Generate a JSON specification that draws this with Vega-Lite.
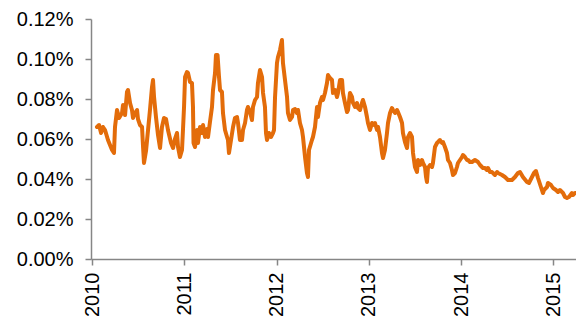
{
  "$schema": "https://vega.github.io/schema/vega-lite/v6.json",
  "autosize": {"type": "none"},
  "padding": {"left": 91, "top": 19, "right": 0, "bottom": 61},
  "width": 485,
  "height": 240,
  "background": "white",
  "config": {"view": {"stroke": null}},
  "data": {"values": [
    {"t": 2010.054, "v": 0.066}, {"t": 2010.076, "v": 0.067}, {"t": 2010.098, "v": 0.063}, {"t": 2010.119, "v": 0.066},
    {"t": 2010.141, "v": 0.0645}, {"t": 2010.173, "v": 0.0595}, {"t": 2010.195, "v": 0.057}, {"t": 2010.217, "v": 0.0545},
    {"t": 2010.238, "v": 0.053}, {"t": 2010.249, "v": 0.066}, {"t": 2010.271, "v": 0.0745}, {"t": 2010.293, "v": 0.0705},
    {"t": 2010.325, "v": 0.073}, {"t": 2010.336, "v": 0.077}, {"t": 2010.358, "v": 0.072}, {"t": 2010.379, "v": 0.0835},
    {"t": 2010.390, "v": 0.0845}, {"t": 2010.412, "v": 0.078}, {"t": 2010.433, "v": 0.0745}, {"t": 2010.444, "v": 0.0705},
    {"t": 2010.466, "v": 0.073}, {"t": 2010.488, "v": 0.0745}, {"t": 2010.498, "v": 0.070}, {"t": 2010.520, "v": 0.067},
    {"t": 2010.542, "v": 0.066}, {"t": 2010.553, "v": 0.056}, {"t": 2010.563, "v": 0.048}, {"t": 2010.585, "v": 0.054},
    {"t": 2010.607, "v": 0.0645}, {"t": 2010.628, "v": 0.0745}, {"t": 2010.650, "v": 0.086}, {"t": 2010.661, "v": 0.0895},
    {"t": 2010.672, "v": 0.081}, {"t": 2010.693, "v": 0.071}, {"t": 2010.715, "v": 0.062}, {"t": 2010.737, "v": 0.0555},
    {"t": 2010.758, "v": 0.066}, {"t": 2010.780, "v": 0.0705}, {"t": 2010.802, "v": 0.070}, {"t": 2010.823, "v": 0.0645},
    {"t": 2010.856, "v": 0.058}, {"t": 2010.878, "v": 0.0555}, {"t": 2010.899, "v": 0.060}, {"t": 2010.921, "v": 0.063},
    {"t": 2010.932, "v": 0.056}, {"t": 2010.953, "v": 0.051}, {"t": 2010.975, "v": 0.0545}, {"t": 2010.986, "v": 0.065},
    {"t": 2010.997, "v": 0.076}, {"t": 2011.008, "v": 0.091}, {"t": 2011.029, "v": 0.0935}, {"t": 2011.040, "v": 0.093},
    {"t": 2011.062, "v": 0.0885}, {"t": 2011.083, "v": 0.088}, {"t": 2011.094, "v": 0.076}, {"t": 2011.100, "v": 0.058},
    {"t": 2011.116, "v": 0.056}, {"t": 2011.138, "v": 0.0645}, {"t": 2011.148, "v": 0.058}, {"t": 2011.170, "v": 0.066},
    {"t": 2011.192, "v": 0.063}, {"t": 2011.203, "v": 0.067}, {"t": 2011.224, "v": 0.061}, {"t": 2011.246, "v": 0.065},
    {"t": 2011.257, "v": 0.061}, {"t": 2011.278, "v": 0.0685}, {"t": 2011.300, "v": 0.076}, {"t": 2011.311, "v": 0.0845},
    {"t": 2011.333, "v": 0.093}, {"t": 2011.343, "v": 0.102}, {"t": 2011.360, "v": 0.102}, {"t": 2011.376, "v": 0.091},
    {"t": 2011.387, "v": 0.0845}, {"t": 2011.408, "v": 0.0835}, {"t": 2011.419, "v": 0.073}, {"t": 2011.441, "v": 0.0645},
    {"t": 2011.463, "v": 0.061}, {"t": 2011.473, "v": 0.0595}, {"t": 2011.484, "v": 0.053}, {"t": 2011.506, "v": 0.0595},
    {"t": 2011.528, "v": 0.066}, {"t": 2011.549, "v": 0.0705}, {"t": 2011.571, "v": 0.071}, {"t": 2011.582, "v": 0.068},
    {"t": 2011.603, "v": 0.0595}, {"t": 2011.625, "v": 0.0595}, {"t": 2011.636, "v": 0.0645}, {"t": 2011.658, "v": 0.068},
    {"t": 2011.679, "v": 0.0745}, {"t": 2011.690, "v": 0.076}, {"t": 2011.712, "v": 0.0735}, {"t": 2011.733, "v": 0.0695},
    {"t": 2011.744, "v": 0.076}, {"t": 2011.766, "v": 0.0795}, {"t": 2011.788, "v": 0.081}, {"t": 2011.798, "v": 0.088},
    {"t": 2011.820, "v": 0.0945}, {"t": 2011.842, "v": 0.091}, {"t": 2011.853, "v": 0.083}, {"t": 2011.874, "v": 0.076},
    {"t": 2011.885, "v": 0.063}, {"t": 2011.896, "v": 0.0595}, {"t": 2011.918, "v": 0.063}, {"t": 2011.939, "v": 0.061},
    {"t": 2011.961, "v": 0.063}, {"t": 2011.972, "v": 0.0645}, {"t": 2011.983, "v": 0.081}, {"t": 2012.004, "v": 0.098},
    {"t": 2012.015, "v": 0.101}, {"t": 2012.037, "v": 0.1045}, {"t": 2012.058, "v": 0.1095}, {"t": 2012.069, "v": 0.098},
    {"t": 2012.091, "v": 0.0895}, {"t": 2012.113, "v": 0.081}, {"t": 2012.123, "v": 0.073}, {"t": 2012.145, "v": 0.0695},
    {"t": 2012.167, "v": 0.071}, {"t": 2012.178, "v": 0.0745}, {"t": 2012.199, "v": 0.075}, {"t": 2012.221, "v": 0.073},
    {"t": 2012.232, "v": 0.0745}, {"t": 2012.253, "v": 0.068}, {"t": 2012.275, "v": 0.0645}, {"t": 2012.286, "v": 0.061},
    {"t": 2012.308, "v": 0.051}, {"t": 2012.329, "v": 0.043}, {"t": 2012.340, "v": 0.041}, {"t": 2012.351, "v": 0.0545},
    {"t": 2012.383, "v": 0.0595}, {"t": 2012.394, "v": 0.061}, {"t": 2012.416, "v": 0.066}, {"t": 2012.438, "v": 0.076},
    {"t": 2012.448, "v": 0.071}, {"t": 2012.470, "v": 0.078}, {"t": 2012.492, "v": 0.081}, {"t": 2012.503, "v": 0.0795},
    {"t": 2012.524, "v": 0.083}, {"t": 2012.546, "v": 0.088}, {"t": 2012.557, "v": 0.092}, {"t": 2012.578, "v": 0.0905},
    {"t": 2012.600, "v": 0.0895}, {"t": 2012.611, "v": 0.083}, {"t": 2012.633, "v": 0.0845}, {"t": 2012.654, "v": 0.081},
    {"t": 2012.665, "v": 0.083}, {"t": 2012.687, "v": 0.0895}, {"t": 2012.709, "v": 0.0895}, {"t": 2012.719, "v": 0.083},
    {"t": 2012.741, "v": 0.078}, {"t": 2012.763, "v": 0.0735}, {"t": 2012.774, "v": 0.0745}, {"t": 2012.795, "v": 0.083},
    {"t": 2012.817, "v": 0.081}, {"t": 2012.828, "v": 0.078}, {"t": 2012.849, "v": 0.076}, {"t": 2012.871, "v": 0.078},
    {"t": 2012.882, "v": 0.0755}, {"t": 2012.904, "v": 0.0745}, {"t": 2012.925, "v": 0.078}, {"t": 2012.936, "v": 0.0795},
    {"t": 2012.958, "v": 0.076}, {"t": 2012.979, "v": 0.071}, {"t": 2012.990, "v": 0.068}, {"t": 2013.012, "v": 0.0645},
    {"t": 2013.034, "v": 0.068}, {"t": 2013.044, "v": 0.067}, {"t": 2013.066, "v": 0.068}, {"t": 2013.088, "v": 0.0645},
    {"t": 2013.099, "v": 0.066}, {"t": 2013.120, "v": 0.061}, {"t": 2013.142, "v": 0.053}, {"t": 2013.153, "v": 0.0505},
    {"t": 2013.174, "v": 0.0545}, {"t": 2013.196, "v": 0.063}, {"t": 2013.207, "v": 0.068}, {"t": 2013.229, "v": 0.073},
    {"t": 2013.250, "v": 0.0755}, {"t": 2013.261, "v": 0.0745}, {"t": 2013.283, "v": 0.073}, {"t": 2013.304, "v": 0.0745},
    {"t": 2013.315, "v": 0.0735}, {"t": 2013.337, "v": 0.071}, {"t": 2013.359, "v": 0.068}, {"t": 2013.369, "v": 0.063},
    {"t": 2013.391, "v": 0.0585}, {"t": 2013.413, "v": 0.0555}, {"t": 2013.424, "v": 0.061}, {"t": 2013.445, "v": 0.063},
    {"t": 2013.467, "v": 0.061}, {"t": 2013.478, "v": 0.053}, {"t": 2013.499, "v": 0.046}, {"t": 2013.521, "v": 0.0435},
    {"t": 2013.532, "v": 0.0495}, {"t": 2013.554, "v": 0.047}, {"t": 2013.575, "v": 0.0495}, {"t": 2013.586, "v": 0.048},
    {"t": 2013.608, "v": 0.046}, {"t": 2013.619, "v": 0.041}, {"t": 2013.629, "v": 0.0385}, {"t": 2013.640, "v": 0.0455},
    {"t": 2013.662, "v": 0.047}, {"t": 2013.684, "v": 0.046}, {"t": 2013.694, "v": 0.048}, {"t": 2013.716, "v": 0.056},
    {"t": 2013.738, "v": 0.058}, {"t": 2013.749, "v": 0.0585}, {"t": 2013.770, "v": 0.0595}, {"t": 2013.792, "v": 0.058},
    {"t": 2013.803, "v": 0.0585}, {"t": 2013.824, "v": 0.056}, {"t": 2013.846, "v": 0.053}, {"t": 2013.857, "v": 0.0495},
    {"t": 2013.879, "v": 0.048}, {"t": 2013.900, "v": 0.0445}, {"t": 2013.911, "v": 0.042}, {"t": 2013.933, "v": 0.043},
    {"t": 2013.954, "v": 0.046}, {"t": 2013.965, "v": 0.048}, {"t": 2013.987, "v": 0.0495}, {"t": 2014.009, "v": 0.051},
    {"t": 2014.019, "v": 0.052}, {"t": 2014.041, "v": 0.051}, {"t": 2014.063, "v": 0.0495}, {"t": 2014.074, "v": 0.0495},
    {"t": 2014.095, "v": 0.0485}, {"t": 2014.117, "v": 0.0485}, {"t": 2014.149, "v": 0.0495}, {"t": 2014.182, "v": 0.0485},
    {"t": 2014.204, "v": 0.047}, {"t": 2014.225, "v": 0.046}, {"t": 2014.236, "v": 0.0455}, {"t": 2014.258, "v": 0.0455},
    {"t": 2014.279, "v": 0.0445}, {"t": 2014.290, "v": 0.0455}, {"t": 2014.312, "v": 0.0435}, {"t": 2014.334, "v": 0.0435},
    {"t": 2014.344, "v": 0.043}, {"t": 2014.366, "v": 0.042}, {"t": 2014.388, "v": 0.0435}, {"t": 2014.399, "v": 0.043},
    {"t": 2014.442, "v": 0.042}, {"t": 2014.474, "v": 0.041}, {"t": 2014.507, "v": 0.0395}, {"t": 2014.550, "v": 0.0395},
    {"t": 2014.583, "v": 0.041}, {"t": 2014.615, "v": 0.043}, {"t": 2014.637, "v": 0.0435}, {"t": 2014.669, "v": 0.041},
    {"t": 2014.713, "v": 0.0385}, {"t": 2014.734, "v": 0.038}, {"t": 2014.767, "v": 0.041}, {"t": 2014.789, "v": 0.043},
    {"t": 2014.810, "v": 0.044}, {"t": 2014.832, "v": 0.0405}, {"t": 2014.864, "v": 0.036}, {"t": 2014.886, "v": 0.033},
    {"t": 2014.897, "v": 0.0345}, {"t": 2014.930, "v": 0.036}, {"t": 2014.940, "v": 0.038}, {"t": 2014.973, "v": 0.037},
    {"t": 2014.995, "v": 0.0355}, {"t": 2015.027, "v": 0.0345}, {"t": 2015.049, "v": 0.0335}, {"t": 2015.070, "v": 0.0345},
    {"t": 2015.103, "v": 0.033}, {"t": 2015.125, "v": 0.031}, {"t": 2015.146, "v": 0.0305}, {"t": 2015.168, "v": 0.031},
    {"t": 2015.200, "v": 0.033}, {"t": 2015.211, "v": 0.032}, {"t": 2015.233, "v": 0.033}, {"t": 2015.244, "v": 0.033}
  ]},
  "mark": {"type": "line", "color": "#E36C0A", "strokeWidth": 4, "strokeJoin": "round", "strokeCap": "round", "clip": false},
  "encoding": {
    "x": {
      "field": "t", "type": "quantitative",
      "scale": {"domain": [2009.989, 2015.244], "nice": false, "zero": false},
      "axis": {
        "title": null, "grid": false, "values": [2010, 2011, 2012, 2013, 2014, 2015],
        "format": "d", "labelAngle": 270, "labelFont": "Liberation Sans", "labelFontSize": 20,
        "labelColor": "#000000", "domainColor": "#868686", "tickColor": "#868686", "domainWidth": 1.5, "tickWidth": 1.5,
        "tickSize": 6, "labelPadding": 7, "labelFlush": false, "labelOverlap": false
      }
    },
    "y": {
      "field": "v", "type": "quantitative",
      "scale": {"domain": [0, 0.12], "nice": false},
      "axis": {
        "title": null, "grid": false, "values": [0, 0.02, 0.04, 0.06, 0.08, 0.1, 0.12],
        "labelExpr": "format(datum.value, '.2f') + '%'", "labelFont": "Liberation Sans", "labelFontSize": 20,
        "labelColor": "#000000", "domainColor": "#868686", "tickColor": "#868686", "domainWidth": 1.5, "tickWidth": 1.5,
        "tickSize": 6, "labelPadding": 12, "labelFlush": false, "labelOverlap": false
      }
    }
  }
}
